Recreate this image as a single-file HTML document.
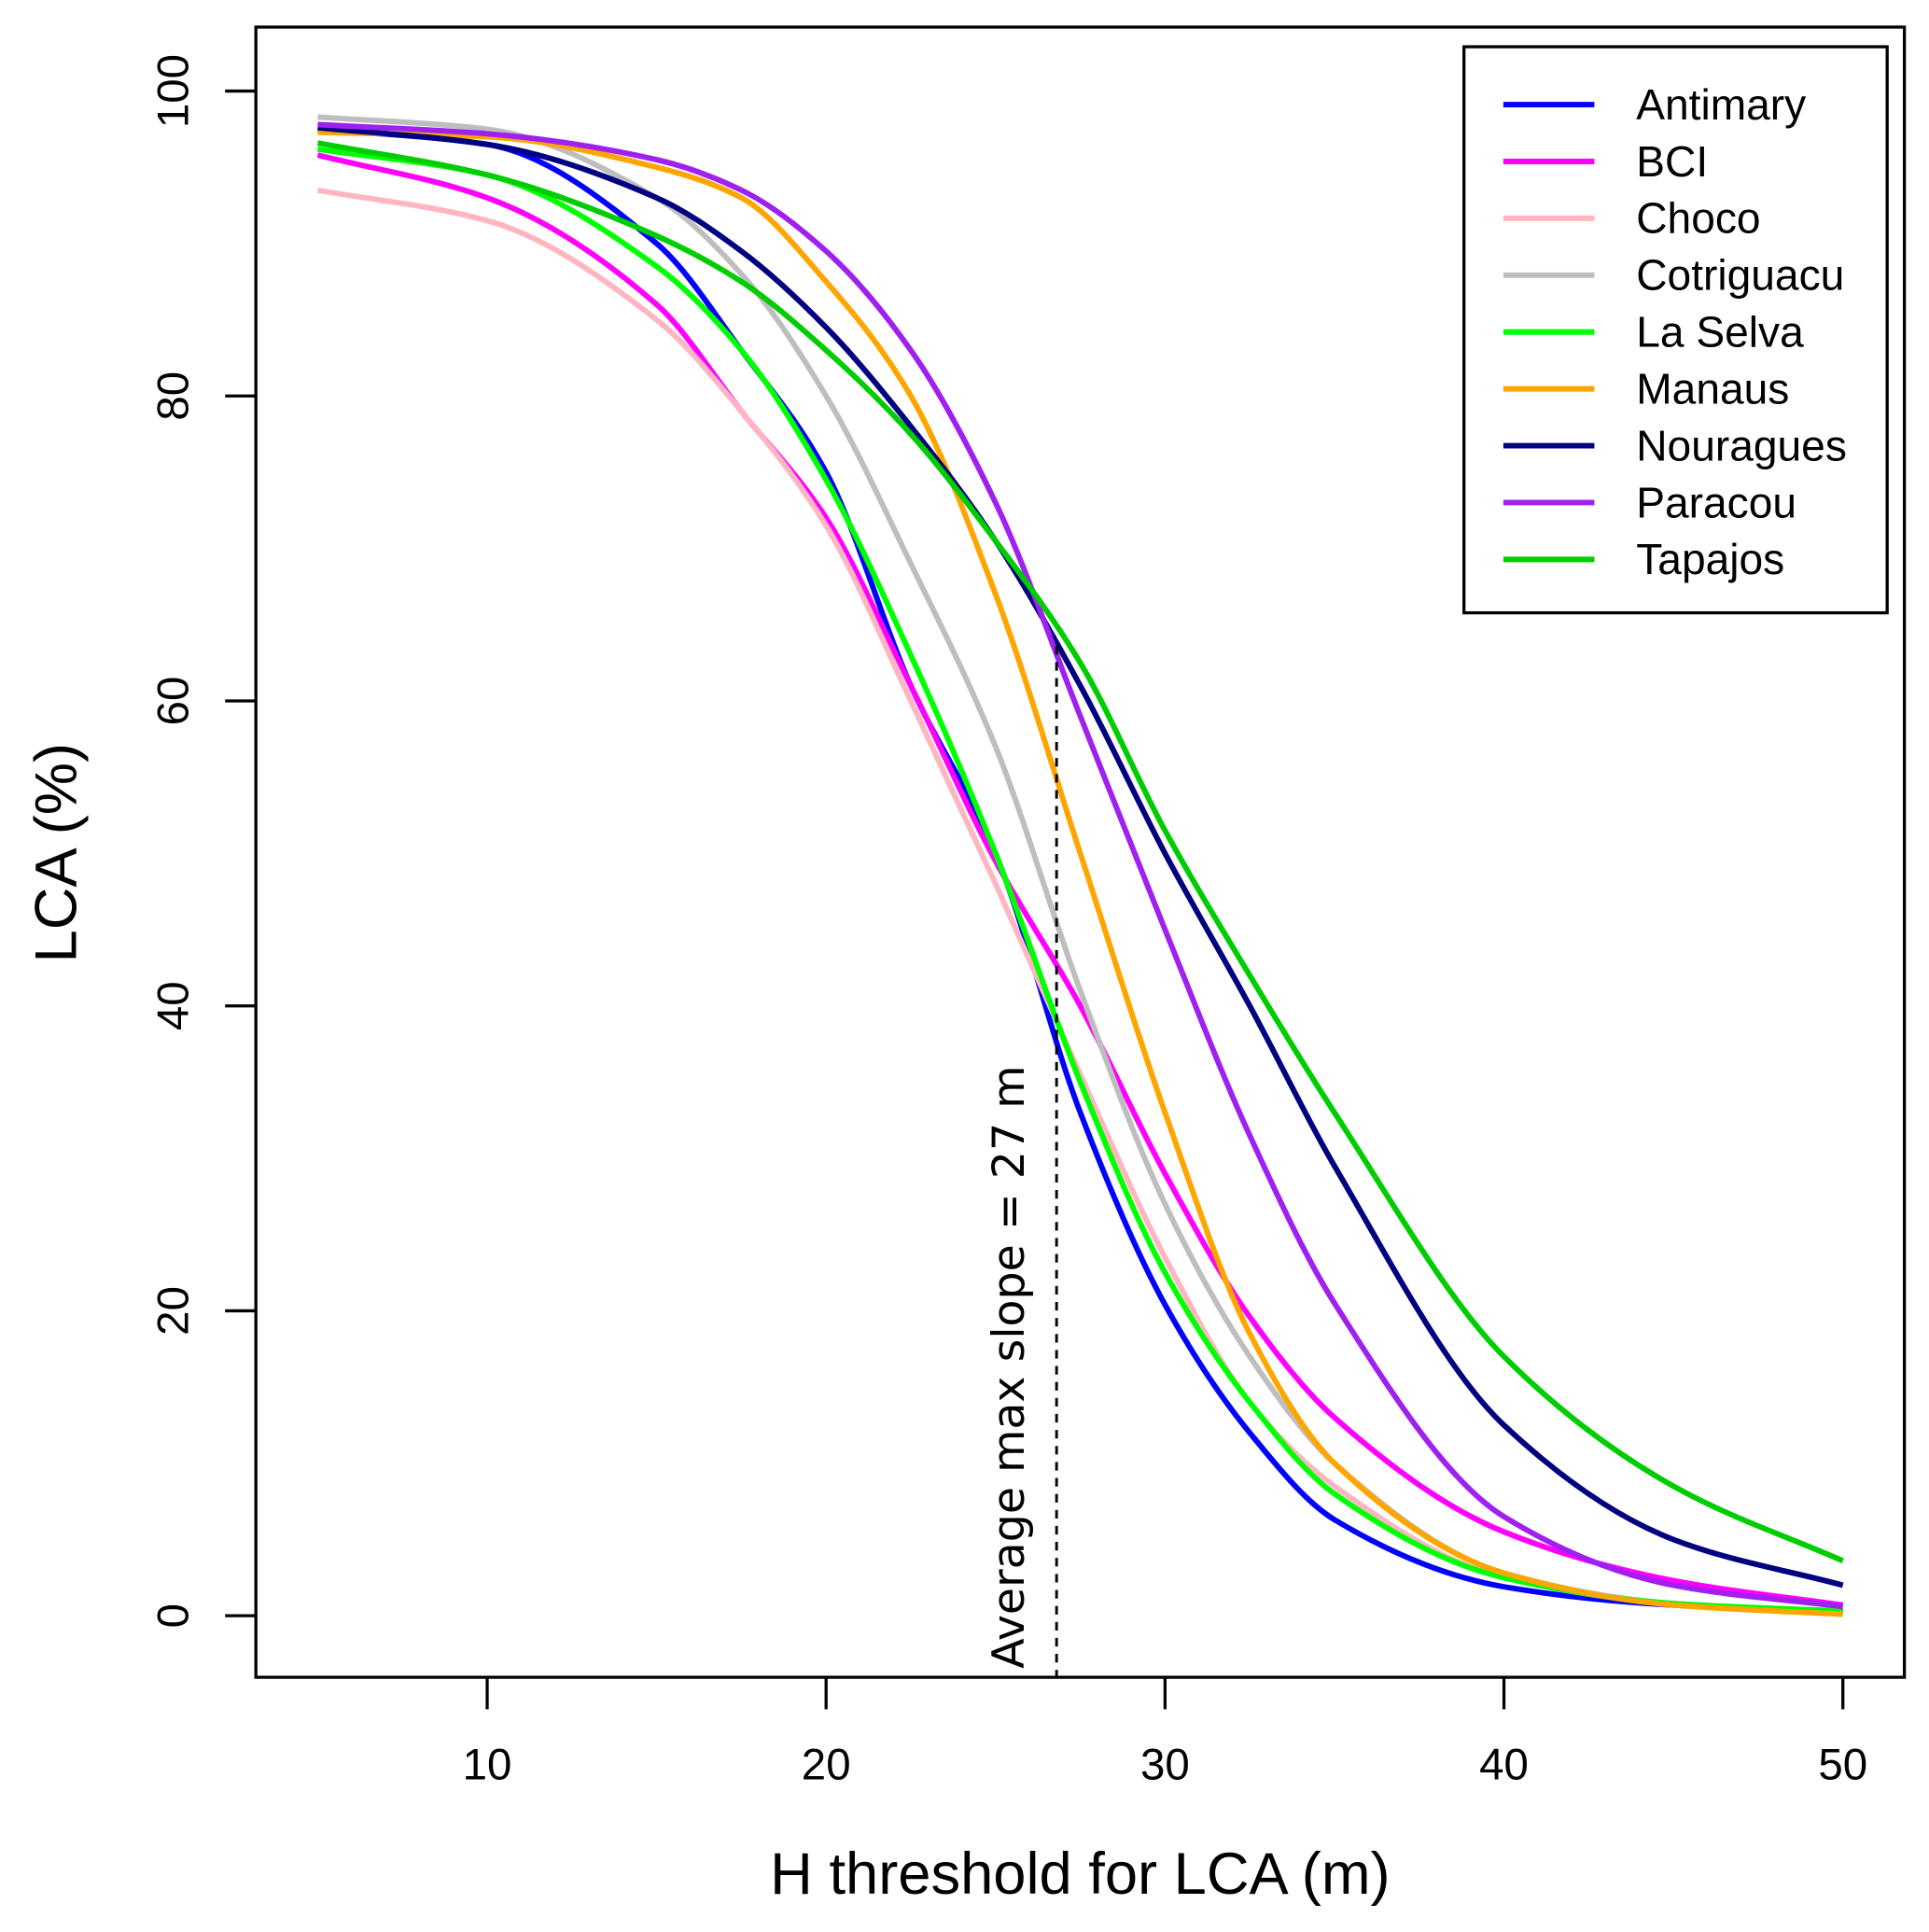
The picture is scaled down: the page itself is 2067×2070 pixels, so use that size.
<!DOCTYPE html>
<html><head><meta charset="utf-8"><style>html,body{margin:0;padding:0;background:#fff}svg{display:block}</style></head>
<body>
<svg id="chart" width="2067" height="2070" viewBox="0 0 1568 1570" preserveAspectRatio="none" xmlns="http://www.w3.org/2000/svg" font-family="Liberation Sans, sans-serif"></svg>
<script>
const xs = [5,10,15,17.5,20,22.5,25,27.5,30,32.5,35,40,45,50];
const names = ["Antimary","BCI","Choco","Cotriguacu","La Selva","Manaus","Nouragues","Paracou","Tapajos"];
const colors = ["#0000ff","#ff00ff","#ffb6c1","#bebebe","#00ff00","#ffa500","#000080","#a020f0","#00cd00"];
const antimary = [97.5,96.5,90,83,75,61,50,33,20.4,12,6.3,1.9,0.7,0.3];
const bci = [95.8,93,86,79,72,61,49.5,40,29,19.6,13,5.5,2.3,0.7];
const choco = [93.5,91.5,85,79,71.5,60,48,35.5,23.5,14,8.5,2.5,0.8,0.3];
const cotriguacu = [98.3,97.5,93,88,80,69,57,41,27,17,10,2.8,0.8,0.3];
const laselva = [96.2,94.5,88.5,83,74.5,63,50,35,22.5,14,8,2.5,0.8,0.3];
const manaus = [97.3,97,95,93,87.5,80,67,50,33,18.5,10,2.8,0.7,0.1];
const nouragues = [97.6,96.5,93,89.5,84.5,78,70.5,61,50,40,29.5,12.5,5,2];
const paracou = [97.8,97.2,95.5,93.5,89.5,83,73,59,45,31.5,20.5,6.5,2,0.6];
const tapajos = [96.6,94.5,90.5,87.5,83,77.5,70.5,62.5,51.5,42,33,17,8.5,3.6];
const series = [antimary,bci,choco,cotriguacu,laselva,manaus,nouragues,paracou,tapajos];
const xTicks = [10,20,30,40,50];
const yTicks = [0,20,40,60,80,100];
const slopeX = 26.8;

const NS = "http://www.w3.org/2000/svg";
const svg = document.getElementById("chart");
const X = v => 396 + (v - 10) * 27.55;
const Y = v => 1313 - v * 12.39;
function mk(tag, attrs, parent) {
  const e = document.createElementNS(NS, tag);
  for (const k in attrs) e.setAttribute(k, attrs[k]);
  (parent || svg).appendChild(e);
  return e;
}
function pathFor(vals) {
  const px = xs.map(X), py = vals.map(Y);
  const n = px.length;
  const d = [], m = new Array(n);
  for (let i = 0; i < n - 1; i++) d.push((py[i+1] - py[i]) / (px[i+1] - px[i]));
  m[0] = d[0]; m[n-1] = d[n-2];
  for (let i = 1; i < n - 1; i++) {
    if (d[i-1] * d[i] <= 0) m[i] = 0;
    else {
      const h0 = px[i] - px[i-1], h1 = px[i+1] - px[i];
      const w1 = 2*h1 + h0, w2 = h1 + 2*h0;
      m[i] = (w1 + w2) / (w1 / d[i-1] + w2 / d[i]);
    }
  }
  let s = "M" + px[0] + "," + py[0];
  for (let i = 0; i < n - 1; i++) {
    const h = (px[i+1] - px[i]) / 3;
    s += "C" + (px[i] + h) + "," + (py[i] + m[i]*h) + " " + (px[i+1] - h) + "," + (py[i+1] - m[i+1]*h) + " " + px[i+1] + "," + py[i+1];
  }
  return s;
}
series.forEach((vals, i) => {
  const l = mk("path", {d: pathFor(vals), fill: "none", stroke: colors[i], "stroke-width": 4.5});
  
  
});
const box = mk("rect", {x: 208, y: 22, width: 1340, height: 1341, fill: "none", stroke: "#000", "stroke-width": 2.5});


xTicks.forEach(t => {
  const tk = mk("line", {x1: X(t), x2: X(t), y1: 1363, y2: 1389, stroke: "#000", "stroke-width": 2.5});
  
  
  const tx = mk("text", {x: X(t), y: 1446, "font-size": 36, "text-anchor": "middle"});
  tx.textContent = t;
  
  
});
yTicks.forEach(t => {
  const tk = mk("line", {x1: 183, x2: 208, y1: Y(t), y2: Y(t), stroke: "#000", "stroke-width": 2.5});
  
  
  const tx = mk("text", {x: 0, y: 0, "font-size": 36, "text-anchor": "middle", transform: "translate(153," + Y(t) + ") rotate(-90)"});
  tx.textContent = t;
  
  
});
const xt = mk("text", {x: 878, y: 1539, "font-size": 48, "text-anchor": "middle"});
xt.textContent = "H threshold for LCA (m)";


const yt = mk("text", {x: 0, y: 0, "font-size": 48, "text-anchor": "middle", transform: "translate(62,693) rotate(-90)"});
yt.textContent = "LCA (%)";


const dl = mk("line", {x1: X(slopeX), x2: X(slopeX), y1: 525, y2: 1363, stroke: "#000", "stroke-width": 2.2, "stroke-dasharray": "7,6"});


const at = mk("text", {x: 0, y: 0, "font-size": 36, "font-family": "DejaVu Sans, sans-serif", transform: "translate(832,1356) rotate(-90)"});
at.textContent = "Average max slope = 27 m";


const lg = mk("g", {});


mk("rect", {x: 1190, y: 38, width: 344, height: 460, fill: "#fff", stroke: "#000", "stroke-width": 2.5}, lg);
names.forEach((n, i) => {
  const yy = 85 + i * 46.2;
  const g = mk("g", {}, lg);
  
  
  mk("line", {x1: 1222, x2: 1296, y1: yy, y2: yy, stroke: colors[i], "stroke-width": 4.5}, g);
  const t = mk("text", {x: 1330, y: yy + 12, "font-size": 35}, g);
  t.textContent = n;
});
</script>
</body></html>
